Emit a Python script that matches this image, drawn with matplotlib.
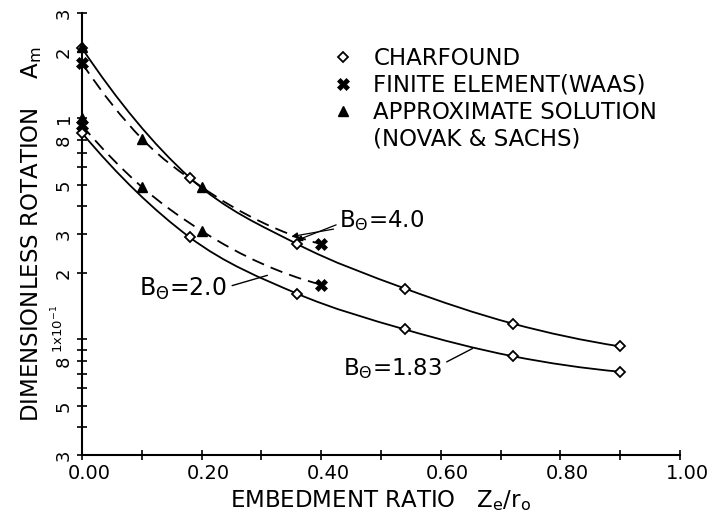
import numpy as np
import matplotlib
matplotlib.use("Agg")
import matplotlib.pyplot as plt
from matplotlib.path import Path
from matplotlib.patches import PathPatch
from matplotlib.lines import Line2D
import matplotlib.transforms as mtransforms

plt.rcParams["mathtext.default"] = "regular"

# ---------------- data ----------------
charfound_x = [0.0, 0.18, 0.36, 0.54, 0.72, 0.90]
charfound_b40 = [2.08, 0.54, 0.27, 0.17, 0.118, 0.093]
charfound_b183 = [0.86, 0.29, 0.161, 0.111, 0.084, 0.0714]

fem_x = [0.0, 0.40]
fem_b40 = [1.78, 0.27]
fem_b20 = [0.93, 0.177]

approx_x = [0.0, 0.10, 0.20]
approx_b40 = [2.10, 0.81, 0.49]
approx_b20 = [1.00, 0.49, 0.31]

x_ticks = [0.0, 0.1, 0.2, 0.3, 0.4, 0.5, 0.6, 0.7, 0.8, 0.9, 1.0]
x_ticklabels = ["0.00", "", "0.20", "", "0.40", "", "0.60", "", "0.80", "", "1.00"]
y_ticks = [3, 2, 1, 0.9, 0.8, 0.7, 0.6, 0.5, 0.4, 0.3, 0.2,
           0.1, 0.09, 0.08, 0.07, 0.06, 0.05, 0.04, 0.03]
y_ticklabels = ["3", "2", "1", "", "8", "", "", "5", "", "3", "2",
                "", "", "8", "", "", "5", "", "3"]
decade_label = "1x10$^{-1}$"

legend_labels = ["CHARFOUND", "FINITE ELEMENT(WAAS)", "APPROXIMATE SOLUTION",
                 "(NOVAK & SACHS)"]


def smooth_path(xs, ys):
    """Cubic Bezier path through the points, smooth in (x, log y) space."""
    X = np.asarray(xs, float)
    L = np.log10(np.asarray(ys, float))
    h = np.diff(X)
    d = np.diff(L) / h
    n = len(X)
    m = np.empty(n)
    if n == 2:
        m[:] = d[0]
    else:
        m[1:-1] = (d[:-1] * h[1:] + d[1:] * h[:-1]) / (h[:-1] + h[1:])
        m[0] = 2 * d[0] - m[1]
        m[-1] = 2 * d[-1] - m[-2]
    verts = [(X[0], 10 ** L[0])]
    codes = [Path.MOVETO]
    for i in range(n - 1):
        c1 = (X[i] + h[i] / 3, L[i] + m[i] * h[i] / 3)
        c2 = (X[i + 1] - h[i] / 3, L[i + 1] - m[i + 1] * h[i] / 3)
        verts += [(c1[0], 10 ** c1[1]), (c2[0], 10 ** c2[1]), (X[i + 1], 10 ** L[i + 1])]
        codes += [Path.CURVE4] * 3
    return Path(verts, codes)


fig = plt.figure(figsize=(7.23, 5.21), dpi=100)
W, H = 723.0, 521.0
ax = fig.add_axes([82 / W, (H - 455) / H, 598 / W, (455 - 13) / H])
ax.set_yscale("log")
ax.set_xlim(0.0, 1.0)
ax.set_ylim(0.03, 3.0)

lw = 1.3
# solid Charfound curves
for ys in (charfound_b40, charfound_b183):
    ax.add_patch(PathPatch(smooth_path(charfound_x, ys), fill=False, lw=lw,
                           ec="black", transform=ax.transData, zorder=2))
# dashed curves through FEM and approximate points
for fy, ay in ((fem_b40, approx_b40), (fem_b20, approx_b20)):
    xs = [fem_x[0]] + approx_x[1:] + [fem_x[1]]
    ys = [fy[0]] + ay[1:] + [fy[1]]
    ax.add_patch(PathPatch(smooth_path(xs, ys), fill=False, lw=lw, ec="black",
                           linestyle=(0, (7, 4)), transform=ax.transData, zorder=2))

mk_char = dict(marker="D", ms=5, mfc="white", mec="black", mew=1.3, ls="none", zorder=4)
mk_fem = dict(marker="X", ms=9, mfc="black", mec="black", mew=0.5, ls="none", zorder=4)
mk_apx = dict(marker="^", ms=7, mfc="black", mec="black", ls="none", zorder=4)

ax.plot(charfound_x, charfound_b40, **mk_char, clip_on=False)
ax.plot(charfound_x, charfound_b183, **mk_char, clip_on=False)
ax.plot(fem_x, fem_b40, **mk_fem, clip_on=False)
ax.plot(fem_x, fem_b20, **mk_fem, clip_on=False)
ax.plot(approx_x, approx_b40, **mk_apx, clip_on=False)
ax.plot(approx_x, approx_b20, **mk_apx, clip_on=False)

# axes styling
for s in ("top", "right"):
    ax.spines[s].set_visible(False)
for s in ("left", "bottom"):
    ax.spines[s].set_linewidth(1.5)

ax.set_xticks(x_ticks)
ax.set_xticklabels(x_ticklabels, fontsize=14)
ax.set_yticks(y_ticks)
ax.set_yticklabels(y_ticklabels, fontsize=13, rotation=90, va="center")
ax.yaxis.set_minor_locator(matplotlib.ticker.NullLocator())
ax.tick_params(axis="both", direction="inout", length=7, width=1.2, pad=3)
off = mtransforms.ScaledTranslation(0.07, 0, fig.dpi_scale_trans)
for lab in ax.get_xticklabels():
    lab.set_transform(lab.get_transform() + off)

# the "1x10^-1" decade label, set left of and just above its tick
ax.text(-0.040, 0.112, decade_label, fontsize=9.5, rotation=90,
        ha="center", va="center", transform=ax.get_yaxis_transform())

ax.set_xlabel("EMBEDMENT RATIO   $Z_e/r_o$", fontsize=16.5, labelpad=4)
ax.set_ylabel("DIMENSIONLESS ROTATION    $A_m$", fontsize=16.5, labelpad=8)

# legend
handles = [Line2D([], [], **mk_char), Line2D([], [], **mk_fem),
           Line2D([], [], **mk_apx), Line2D([], [], ls="none")]
ax.legend(handles, legend_labels, loc="upper left",
          bbox_to_anchor=(333 / W, (H - 47) / H), bbox_transform=fig.transFigure,
          frameon=False, fontsize=16.5, handlelength=0.9, handletextpad=0.86,
          labelspacing=0.17, borderpad=0, borderaxespad=0)

# curve annotations
ax.annotate(r"B$_\Theta$=4.0", xy=(0.350, 0.292), xytext=(0.43, 0.345),
            fontsize=16.5, va="center", ha="left",
            arrowprops=dict(arrowstyle="-|>", lw=0.9, color="black",
                            shrinkA=2, shrinkB=0, mutation_scale=9))
ax.annotate("", xy=(0.358, 0.280), xytext=(0.425, 0.330),
            arrowprops=dict(arrowstyle="-|>", lw=0.9, color="black",
                            shrinkA=0, shrinkB=0, mutation_scale=9))
ax.annotate(r"B$_\Theta$=2.0", xy=(0.31, 0.195), xytext=(0.095, 0.170),
            fontsize=17, va="center", ha="left",
            arrowprops=dict(arrowstyle="-", lw=1.0, color="black",
                            shrinkA=2, shrinkB=0, relpos=(1.0, 0.55)))
ax.annotate(r"B$_\Theta$=1.83", xy=(0.653, 0.091), xytext=(0.436, 0.074),
            fontsize=16.5, va="center", ha="left",
            arrowprops=dict(arrowstyle="-", lw=1.0, color="black",
                            shrinkA=2, shrinkB=0, relpos=(1.0, 0.65)))

fig.savefig("out.png", dpi=100)
